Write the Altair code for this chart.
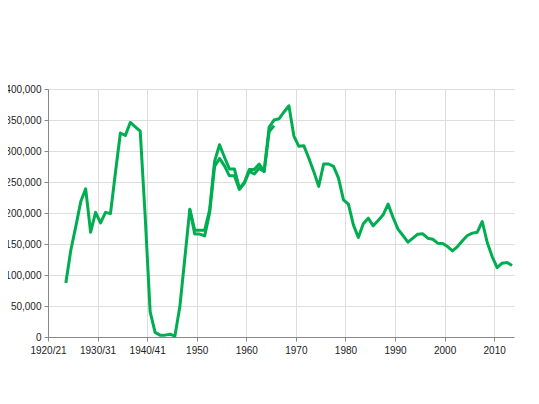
import altair as alt
import pandas as pd

# Series A (earlier record), fiscal years starting
years_a = list(range(1923, 1966))
values_a = [87000, 140000, 178000, 218000, 239000, 169000, 201000, 184000, 201000, 199000,
            265000, 329000, 325000, 346000, 339000, 332000, 195000, 41000, 7500, 3000,
            3000, 4500, 1500, 49000, 127000, 206000, 166000, 166000, 163000, 200000,
            275000, 288000, 276000, 260000, 260000, 238000, 248000, 267000, 263000, 272000,
            267000, 331000, 341000]

# Series B (later record)
years_b = list(range(1948, 2014))
values_b = [206000, 172000, 172000, 172000, 205000, 283000, 310000, 290000, 271000, 271000,
            240000, 249000, 270000, 270000, 279000, 267000, 338000, 350000, 352000, 363000,
            373000, 324000, 307500, 308600, 288600, 267100, 242900, 279000, 279000, 275200,
            256300, 221300, 214300, 180900, 160500, 182600, 191700, 179300, 187900, 197100,
            214300, 192800, 173900, 163700, 152900, 159400, 165900, 166400, 159400, 157800,
            151300, 150800, 145900, 138900, 145900, 155100, 163700, 167500, 169100, 186300,
            152400, 129800, 112000, 119000, 120100, 115200]

x_ticks = [1920, 1930, 1940, 1950, 1960, 1970, 1980, 1990, 2000, 2010]
y_ticks = [0, 50000, 100000, 150000, 200000, 250000, 300000, 350000, 400000]

df = pd.concat([
    pd.DataFrame({"year": years_a, "value": values_a, "series": "A"}),
    pd.DataFrame({"year": years_b, "value": values_b, "series": "B"}),
])

GREEN = "#00ad50"
FONT = "Liberation Sans"

chart = alt.Chart(df).transform_calculate(
    t="datum.year + 0.6"
).mark_line(color=GREEN, strokeWidth=3, strokeJoin="round").encode(
    x=alt.X("t:Q", scale=alt.Scale(domain=[1920, 2014], nice=False, zero=False),
            axis=alt.Axis(values=x_ticks, title=None, labelFlush=False, labelOverlap=False,
                          labelExpr="datum.value < 1950 ? datum.value + '/' + ((datum.value + 1) % 100) : '' + datum.value",
                          tickSize=4, labelPadding=4)),
    y=alt.Y("value:Q", scale=alt.Scale(domain=[0, 400000], nice=False),
            axis=alt.Axis(values=y_ticks, format=",.0f", title=None, tickSize=4, labelPadding=3,
                          labelOverlap=False)),
    detail="series:N",
).properties(
    width=466, height=248,
    autosize=alt.AutoSizeParams(type="none"),
    padding={"left": 40, "top": 81, "right": 17, "bottom": 50},
).configure_view(stroke=None).configure_axis(
    gridColor="#dddddd", gridWidth=1,
    domainColor="#888888", tickColor="#888888",
    labelFont=FONT, labelFontSize=10, labelColor="#222222",
)

chart.save("out.html", embed_options={"renderer": "svg", "actions": False})
